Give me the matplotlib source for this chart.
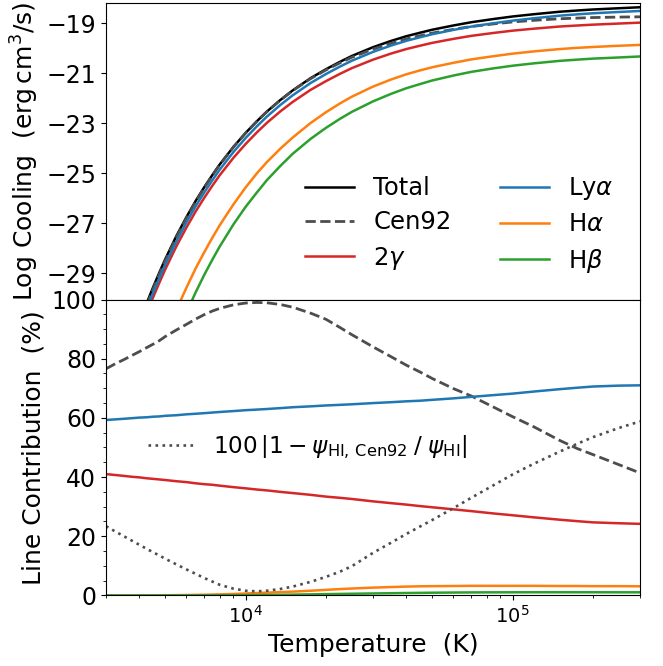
import numpy as np
import matplotlib
matplotlib.use("Agg")
import matplotlib.pyplot as plt
from matplotlib.ticker import MultipleLocator

# temperature grid (K)
T = [3000, 3250, 3500, 3750, 4000, 4250, 4500, 4750, 5000, 5500, 6000, 6500, 7000, 7500,
     8000, 9000, 1e4, 1.1e4, 1.2e4, 1.35e4, 1.5e4, 1.75e4, 2e4, 2.25e4, 2.5e4, 3e4, 3.5e4,
     4e4, 4.5e4, 5e4, 6e4, 7e4, 8.5e4, 1e5, 1.2e5, 1.5e5, 1.75e5, 2e5, 2.5e5, 3e5]

# log10 of total HI line cooling (erg cm^3 / s)
log_total = [-35.21, -33.91, -32.79, -31.82, -30.97, -30.22, -29.56, -28.97, -28.43, -27.51,
             -26.75, -26.10, -25.55, -25.07, -24.64, -23.94, -23.38, -22.92, -22.53, -22.06,
             -21.68, -21.19, -20.83, -20.54, -20.30, -19.95, -19.70, -19.51, -19.37, -19.25,
             -19.08, -18.95, -18.82, -18.72, -18.63, -18.53, -18.48, -18.44, -18.39, -18.35]

# contribution of each component to the total (%)
pct_cen92 = [76.6, 78.3, 79.7, 81.1, 82.4, 83.7, 84.9, 86.1, 87.5, 89.7, 91.6, 93.4, 94.9, 96.1,
             97.0, 98.2, 98.8, 99.0, 98.9, 98.3, 97.4, 95.4, 93.3, 90.6, 88.1, 84.0, 80.7,
             77.8, 75.5, 73.3, 69.9, 67.4, 63.6, 60.4, 57.0, 52.4, 49.6, 47.6, 44.2, 41.4]
pct_lya = [59.3, 59.5, 59.7, 59.9, 60.1, 60.2, 60.4, 60.5, 60.7, 60.9, 61.2, 61.4, 61.6, 61.8,
           62.0, 62.3, 62.6, 62.8, 63.0, 63.3, 63.6, 63.9, 64.2, 64.4, 64.6, 65.0, 65.3,
           65.6, 65.8, 66.1, 66.6, 67.1, 67.7, 68.2, 68.9, 69.7, 70.2, 70.6, 70.9, 71.0]
pct_2g = [41.0, 40.7, 40.4, 40.1, 39.9, 39.6, 39.4, 39.2, 39.0, 38.6, 38.3, 37.9, 37.6, 37.4,
          37.1, 36.6, 36.2, 35.8, 35.5, 35.0, 34.6, 34.0, 33.4, 33.0, 32.6, 31.8, 31.2,
          30.7, 30.2, 29.8, 29.1, 28.5, 27.7, 27.1, 26.4, 25.6, 25.1, 24.7, 24.4, 24.2]
pct_ha = [0.004, 0.007, 0.012, 0.018, 0.025, 0.034, 0.045, 0.058, 0.073, 0.11, 0.15, 0.20, 0.25, 0.31,
          0.37, 0.50, 0.66, 0.82, 0.95, 1.13, 1.30, 1.60, 1.90, 2.15, 2.35, 2.65, 2.85,
          3.0, 3.1, 3.15, 3.2, 3.25, 3.25, 3.25, 3.25, 3.2, 3.2, 3.15, 3.15, 3.1]
pct_hb = [0.0001, 0.0002, 0.0005, 0.0008, 0.0013, 0.002, 0.003, 0.0043, 0.006, 0.010, 0.015, 0.022,
          0.031, 0.041, 0.052, 0.079, 0.11, 0.14, 0.18, 0.23, 0.29, 0.37, 0.45, 0.52, 0.58,
          0.68, 0.76, 0.83, 0.88, 0.93, 0.99, 1.03, 1.06, 1.07, 1.08, 1.08, 1.08, 1.08, 1.07, 1.07]
pct_psi = [23.4, 21.6, 20.0, 18.5, 17.1, 15.8, 14.6, 13.5, 12.4, 10.5, 8.8, 7.3, 5.9, 4.7,
           3.6, 2.3, 1.6, 1.4, 1.6, 2.2, 3.0, 4.6, 6.3, 8.0, 9.9, 14.4, 17.8,
           20.8, 23.3, 25.5, 29.5, 33.0, 37.3, 40.9, 44.5, 48.6, 51.3, 53.5, 56.6, 58.8]

def line_log(pct):
    # line cooling = total * fraction
    return np.array(log_total) + np.log10(np.array(pct) / 100.0)

LW = 1.8
FS_XTICK = 14
FS_YTICK = 17
FS_LAB = 18
FS_LEG = 17.5

fig = plt.figure(figsize=(6.63, 6.66), dpi=100)
ax1 = fig.add_axes([0.160, 0.5503, 0.8053, 0.4452])
ax2 = fig.add_axes([0.160, 0.1059, 0.8053, 0.4444], sharex=ax1)

# top panel: cooling rates
ax1.plot(T, log_total, color="k", lw=LW, label="Total")
ax1.plot(T, line_log(pct_cen92), color="0.3", ls="--", lw=2.0, label="Cen92")
ax1.plot(T, line_log(pct_2g), color="tab:red", lw=LW, label=r"2$\gamma$")
ax1.plot(T, line_log(pct_lya), color="tab:blue", lw=LW, label=r"Ly$\alpha$")
ax1.plot(T, line_log(pct_ha), color="tab:orange", lw=LW, label=r"H$\alpha$")
ax1.plot(T, line_log(pct_hb), color="tab:green", lw=LW, label=r"H$\beta$")

ax1.set_xscale("log")
ax1.set_xlim(3e3, 3e5)
ax1.set_ylim(-30.05, -18.18)
ax1.set_yticks([-29, -27, -25, -23, -21, -19])
ax1.tick_params(axis="x", labelbottom=False, labelsize=FS_XTICK)
ax1.tick_params(axis="y", labelsize=FS_YTICK)
ax1.set_ylabel(r"Log Cooling  $(\mathrm{erg\,cm^3/s})$", fontsize=FS_LAB)
ax1.legend(ncol=2, frameon=False, fontsize=FS_LEG, loc="lower right",
           labelspacing=0.42, bbox_to_anchor=(0.992, 0.01))

# bottom panel: fractional contributions
ax2.plot(T, pct_cen92, color="0.3", ls="--", lw=2.0)
ax2.plot(T, pct_lya, color="tab:blue", lw=LW)
ax2.plot(T, pct_2g, color="tab:red", lw=LW)
ax2.plot(T, pct_ha, color="tab:orange", lw=LW)
ax2.plot(T, pct_hb, color="tab:green", lw=LW)
psi_line, = ax2.plot(T, pct_psi, color="0.3", ls=":", lw=1.9,
                     label=r"$100\,|1-\psi_{\rm HI,\,Cen92}\;/\;\psi_{\rm HI}|$")

ax2.set_ylim(0, 100)
ax2.yaxis.set_major_locator(MultipleLocator(20))
ax2.yaxis.set_minor_locator(MultipleLocator(5))
ax2.tick_params(axis="x", labelsize=FS_XTICK)
ax2.tick_params(axis="y", labelsize=FS_YTICK)
ax2.set_xlabel("Temperature  (K)", fontsize=FS_LAB)
ax2.set_ylabel("Line Contribution  (%)", fontsize=FS_LAB)
ax2.legend(handles=[psi_line], frameon=False, fontsize=16.7, loc="center left",
           bbox_to_anchor=(0.039, 0.5025))

fig.savefig("out.png", dpi=100)
